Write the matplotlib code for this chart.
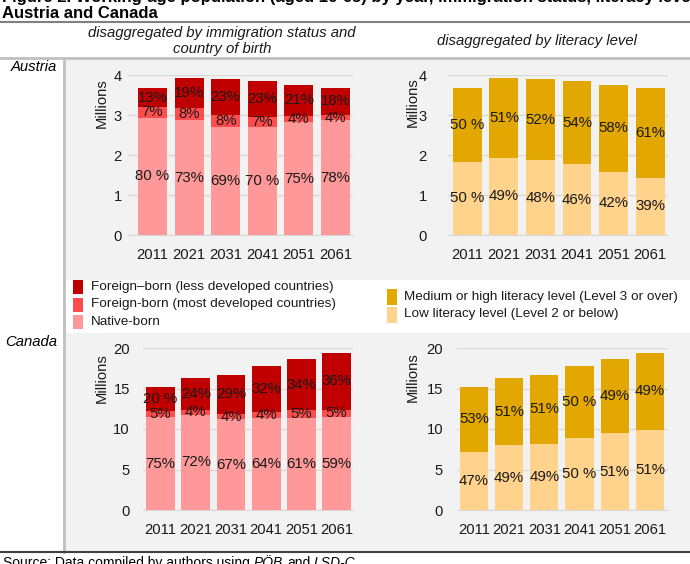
import matplotlib
matplotlib.use('Agg')
import matplotlib.pyplot as plt
from matplotlib.patches import Rectangle

plt.rcParams['font.family'] = ['Liberation Sans', 'DejaVu Sans']

W, H = 690, 564

years = ['2011', '2021', '2031', '2041', '2051', '2061']

# bar totals in millions
austria_total = [3.67, 3.93, 3.90, 3.84, 3.76, 3.67]
canada_total = [15.23, 16.30, 16.68, 17.72, 18.63, 19.38]

# shares exactly as printed inside the segments
at_native = ['80 %', '73%', '69%', '70 %', '75%', '78%']
at_most_dev = ['7%', '8%', '8%', '7%', '4%', '4%']
at_less_dev = ['13%', '19%', '23%', '23%', '21%', '18%']
at_low_lit = ['50 %', '49%', '48%', '46%', '42%', '39%']
at_high_lit = ['50 %', '51%', '52%', '54%', '58%', '61%']

ca_native = ['75%', '72%', '67%', '64%', '61%', '59%']
ca_most_dev = ['5%', '4%', '4%', '4%', '5%', '5%']
ca_less_dev = ['20 %', '24%', '29%', '32%', '34%', '36%']
ca_low_lit = ['47%', '49%', '49%', '50 %', '51%', '51%']
ca_high_lit = ['53%', '51%', '51%', '50 %', '49%', '49%']

imm_names = ['Foreign\u2013born (less developed countries)',
             'Foreign-born (most developed countries)',
             'Native-born']
lit_names = ['Medium or high literacy level (Level 3 or over)',
             'Low literacy level (Level 2 or below)']

imm_colors = ['#C00000', '#FF4D4D', '#FF9999']   # less dev, most dev, native
lit_colors = ['#E2A700', '#FFD38C']               # high, low

BG = '#F2F2F2'
GRID = '#D9D9D9'
INK = '#1a1a1a'


def px_axes(fig, x0, y0, x1, y1):
    """Axes placed by pixel box (top-left origin)."""
    return fig.add_axes([x0 / W, 1 - y1 / H, (x1 - x0) / W, (y1 - y0) / H])


def share(lbl):
    return float(lbl.replace('%', '').strip())


def stacked(ax, totals, series, colors, ymax, step, xlim, width, ypad):
    """series goes bottom -> top, each a list of label strings."""
    x = list(range(len(years)))
    bottom = [0.0] * len(years)
    for lbls, col in zip(series, colors):
        h = [t * share(l) / 100 for t, l in zip(totals, lbls)]
        bars = ax.bar(x, h, width, bottom=bottom, color=col, zorder=3)
        ax.bar_label(bars, labels=lbls, label_type='center', fontsize=10.8,
                     color=INK, zorder=4)
        bottom = [b + v for b, v in zip(bottom, h)]
    ax.set_facecolor('none')
    ax.set_xlim(*xlim)
    ax.set_ylim(0, ymax)
    ax.set_yticks([i * step for i in range(int(ymax / step) + 1)])
    ax.set_xticks(x)
    ax.set_xticklabels(years)
    ax.grid(axis='y', color=GRID, lw=1, zorder=0)
    for s in ['top', 'right', 'left']:
        ax.spines[s].set_visible(False)
    ax.spines['bottom'].set_color(GRID)
    ax.tick_params(axis='x', length=0, pad=9, labelsize=10.6, colors=INK)
    ax.tick_params(axis='y', length=0, pad=ypad * 0.72, labelsize=10.6, colors=INK)


fig = plt.figure(figsize=(W / 100, H / 100), dpi=100)

# page layer in pixel coordinates
bg = fig.add_axes([0, 0, 1, 1])
bg.set_xlim(0, W)
bg.set_ylim(H, 0)
bg.axis('off')

bg.add_patch(Rectangle((65, 58), W - 65, 222, color=BG, lw=0))
bg.add_patch(Rectangle((65, 333), W - 65, 219, color=BG, lw=0))
bg.plot([0, W], [22, 22], color='#808080', lw=1.5)
bg.plot([0, W], [58, 58], color='#C0C0C0', lw=2)
bg.plot([64, 64], [58, 552], color='#C0C0C0', lw=2)
bg.plot([0, W], [552, 552], color='#404040', lw=1.5)

# first title line, cut off by the top edge
bg.text(2, 2, 'Figure 2. Working-age population (aged 16-65) by year, immigration status, literacy level,',
        fontsize=12, fontweight='bold', va='baseline', ha='left')
bg.text(2, 14, 'Austria and Canada', fontsize=12, fontweight='bold', va='center', ha='left')

bg.text(222, 33, 'disaggregated by immigration status and', fontsize=10.7,
        fontstyle='italic', ha='center', va='center', color=INK)
bg.text(222, 49, 'country of birth', fontsize=10.7,
        fontstyle='italic', ha='center', va='center', color=INK)
bg.text(537, 41, 'disaggregated by literacy level', fontsize=10.7,
        fontstyle='italic', ha='center', va='center', color=INK)

bg.text(57, 67, 'Austria', fontsize=10.7, fontstyle='italic', ha='right', va='center')
bg.text(57, 342, 'Canada', fontsize=10.7, fontstyle='italic', ha='right', va='center')

# legends
for i, (name, col) in enumerate(zip(imm_names, imm_colors)):
    yc = 287 + i * 17.5
    bg.add_patch(Rectangle((73, yc - 7), 10, 14, color=col, lw=0))
    bg.text(91, yc, name, fontsize=9.7, va='center', ha='left', color=INK)
for i, (name, col) in enumerate(zip(lit_names, lit_colors)):
    yc = 297 + i * 17.5
    bg.add_patch(Rectangle((387, yc - 8), 10, 16, color=col, lw=0))
    bg.text(404, yc, name, fontsize=9.7, va='center', ha='left', color=INK)

# source line, mostly cut off at the bottom edge
r = fig.canvas.get_renderer()
x = 3
for piece, style in [('Source: Data compiled by authors using', 'normal'), ('P\u00d6B', 'italic'),
                     ('and', 'normal'), ('LSD-C', 'italic')]:
    t = bg.text(x, 567, piece, fontsize=10, fontstyle=style, va='baseline', ha='left')
    x += t.get_window_extent(renderer=r).width + 3.9

# charts
ax1 = px_axes(fig, 128, 75, 353, 235)
stacked(ax1, austria_total, [at_native, at_most_dev, at_less_dev],
        imm_colors[::-1], 4, 1, (-0.67, 5.48), 0.79, 6)
ax2 = px_axes(fig, 448, 75, 668, 235)
stacked(ax2, austria_total, [at_low_lit, at_high_lit],
        lit_colors[::-1], 4, 1, (-0.53, 5.49), 0.79, 21)
ax3 = px_axes(fig, 143, 348, 353, 510)
stacked(ax3, canada_total, [ca_native, ca_most_dev, ca_less_dev],
        imm_colors[::-1], 20, 5, (-0.5, 5.47), 0.82, 13)
ax4 = px_axes(fig, 457, 348, 668, 510)
stacked(ax4, canada_total, [ca_low_lit, ca_high_lit],
        lit_colors[::-1], 20, 5, (-0.48, 5.51), 0.8, 14)

for xp, yp in [(102, 103), (413, 102), (102, 378), (413, 377)]:
    bg.text(xp, yp, 'Millions', fontsize=10.6, rotation=90, ha='center', va='center',
            color=INK)

fig.savefig('out.png', dpi=100)
